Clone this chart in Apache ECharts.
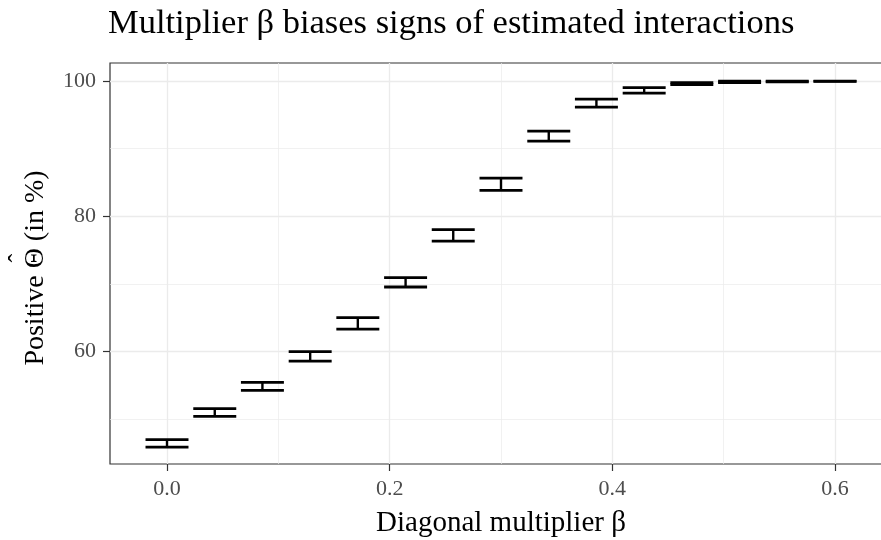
<!DOCTYPE html>
<html>
<head>
<meta charset="utf-8">
<script src="https://cdn.jsdelivr.net/npm/echarts@6/dist/echarts.min.js"></script>
<style>html,body{margin:0;padding:0;background:#fff;}#c{width:881px;height:540px;}</style>
</head>
<body>
<div id="c"></div>
<script>
// Data
const betas = [0, 0.0429, 0.0857, 0.1286, 0.1714, 0.2143, 0.2571, 0.3, 0.3429, 0.3857, 0.4286, 0.4714, 0.5143, 0.5571, 0.6];
const lower = [45.86, 50.4, 54.25, 58.58, 63.31, 69.53, 76.33, 83.83, 91.12, 96.15, 98.22, 99.47, 99.78, 99.88, 99.96];
const upper = [46.95, 51.54, 55.43, 59.97, 65.0, 70.92, 78.02, 85.65, 92.6, 97.34, 99.02, 99.76, 99.97, 99.99, 100.0];
const xMajorTicks = [0, 0.2, 0.4, 0.6];
const xMinorTicks = [0.1, 0.3, 0.5];
const yMajorTicks = [60, 80, 100];
const yMinorTicks = [50, 70, 90];

const FONT = '"Liberation Serif", "DejaVu Serif", serif';
const capWidth = 0.0386;
const data = betas.map((b, i) => [b, lower[i], upper[i]]);

// Y-axis title pieces: "Positive Θ̂ (in %)" with the hat drawn over Θ
const yTitleSize = 28;
const yTitleParts = ['Positive ', 'Θ', ' (in %)'];
const mctx = document.createElement('canvas').getContext('2d');
mctx.font = yTitleSize + 'px ' + FONT;
const partW = yTitleParts.map(s => mctx.measureText(s).width);
const totalW = partW.reduce((a, b) => a + b, 0);

const chart = echarts.init(document.getElementById('c'), null, {renderer: 'canvas'});

const xRange = {min: -0.0512, max: 0.6512};
const yRange = {min: 43.35, max: 102.67};

const yTitleCenter = {x: 36, y: 268};
let off = -totalW / 2;
const yTitleChildren = [];
yTitleParts.forEach((s, i) => {
  yTitleChildren.push({
    type: 'text', x: off, y: 0,
    style: {text: s, font: yTitleSize + 'px ' + FONT, fill: '#000', textAlign: 'left', textVerticalAlign: 'middle'}
  });
  if (s === 'Θ') {
    yTitleChildren.push({
      type: 'text', x: off + partW[i] / 2, y: -17,
      style: {text: 'ˆ', font: '26px ' + FONT, fill: '#000', textAlign: 'center', textVerticalAlign: 'middle'}
    });
  }
  off += partW[i];
});

chart.setOption({
  animation: false,
  backgroundColor: '#ffffff',
  title: {
    text: 'Multiplier β biases signs of estimated interactions',
    left: 108, top: 6, padding: 0,
    textStyle: {fontFamily: FONT, fontSize: 34.5, fontWeight: 'normal', color: '#000'}
  },
  grid: {
    left: 110, top: 63, width: 782, height: 401,
    outerBoundsMode: 'none', containLabel: false,
    show: true, borderColor: '#333333', borderWidth: 1.2, backgroundColor: 'transparent'
  },
  graphic: [{
    type: 'group', x: yTitleCenter.x, y: yTitleCenter.y, rotation: Math.PI / 2,
    children: yTitleChildren
  }],
  xAxis: [{
    type: 'value', min: xRange.min, max: xRange.max,
    name: 'Diagonal multiplier β', nameLocation: 'middle', nameGap: 45,
    nameTextStyle: {fontFamily: FONT, fontSize: 29, color: '#000'},
    axisLine: {show: false, onZero: false},
    axisTick: {show: true, inside: false, length: 7, customValues: xMajorTicks, lineStyle: {color: '#333333', width: 1.2}},
    axisLabel: {customValues: xMajorTicks, fontFamily: FONT, fontSize: 22, color: '#4d4d4d', margin: 14,
      formatter: v => v.toFixed(1)},
    splitLine: {show: true, lineStyle: {color: '#ebebeb', width: 1.3}}
  }, {
    type: 'value', min: xRange.min, max: xRange.max,
    axisLine: {show: false, onZero: false},
    axisTick: {show: false, customValues: xMinorTicks},
    axisLabel: {show: false, customValues: xMinorTicks},
    splitLine: {show: true, lineStyle: {color: '#ebebeb', width: 0.7}}
  }],
  yAxis: [{
    type: 'value', min: yRange.min, max: yRange.max,
    axisLine: {show: false, onZero: false},
    axisTick: {show: true, inside: false, length: 7, customValues: yMajorTicks, lineStyle: {color: '#333333', width: 1.2}},
    axisLabel: {customValues: yMajorTicks, fontFamily: FONT, fontSize: 22, color: '#4d4d4d', margin: 14},
    splitLine: {show: true, lineStyle: {color: '#ebebeb', width: 1.3}}
  }, {
    type: 'value', min: yRange.min, max: yRange.max,
    axisLine: {show: false, onZero: false},
    axisTick: {show: false, customValues: yMinorTicks},
    axisLabel: {show: false, customValues: yMinorTicks},
    splitLine: {show: true, lineStyle: {color: '#ebebeb', width: 0.7}}
  }],
  series: [{
    type: 'custom',
    xAxisIndex: 0, yAxisIndex: 0,
    data: data,
    renderItem: function (params, api) {
      const x = api.value(0), lo = api.value(1), hi = api.value(2);
      const pLo = api.coord([x, lo]);
      const pHi = api.coord([x, hi]);
      const hw = api.size([capWidth, 0])[0] / 2;
      const st = {stroke: '#000', lineWidth: 2.8};
      return {
        type: 'group',
        children: [
          {type: 'line', shape: {x1: pHi[0] - hw, y1: pHi[1], x2: pHi[0] + hw, y2: pHi[1]}, style: st},
          {type: 'line', shape: {x1: pLo[0] - hw, y1: pLo[1], x2: pLo[0] + hw, y2: pLo[1]}, style: st},
          {type: 'line', shape: {x1: pLo[0], y1: pLo[1], x2: pHi[0], y2: pHi[1]}, style: {stroke: '#000', lineWidth: 2.4}}
        ]
      };
    }
  }]
});
</script>
</body>
</html>
